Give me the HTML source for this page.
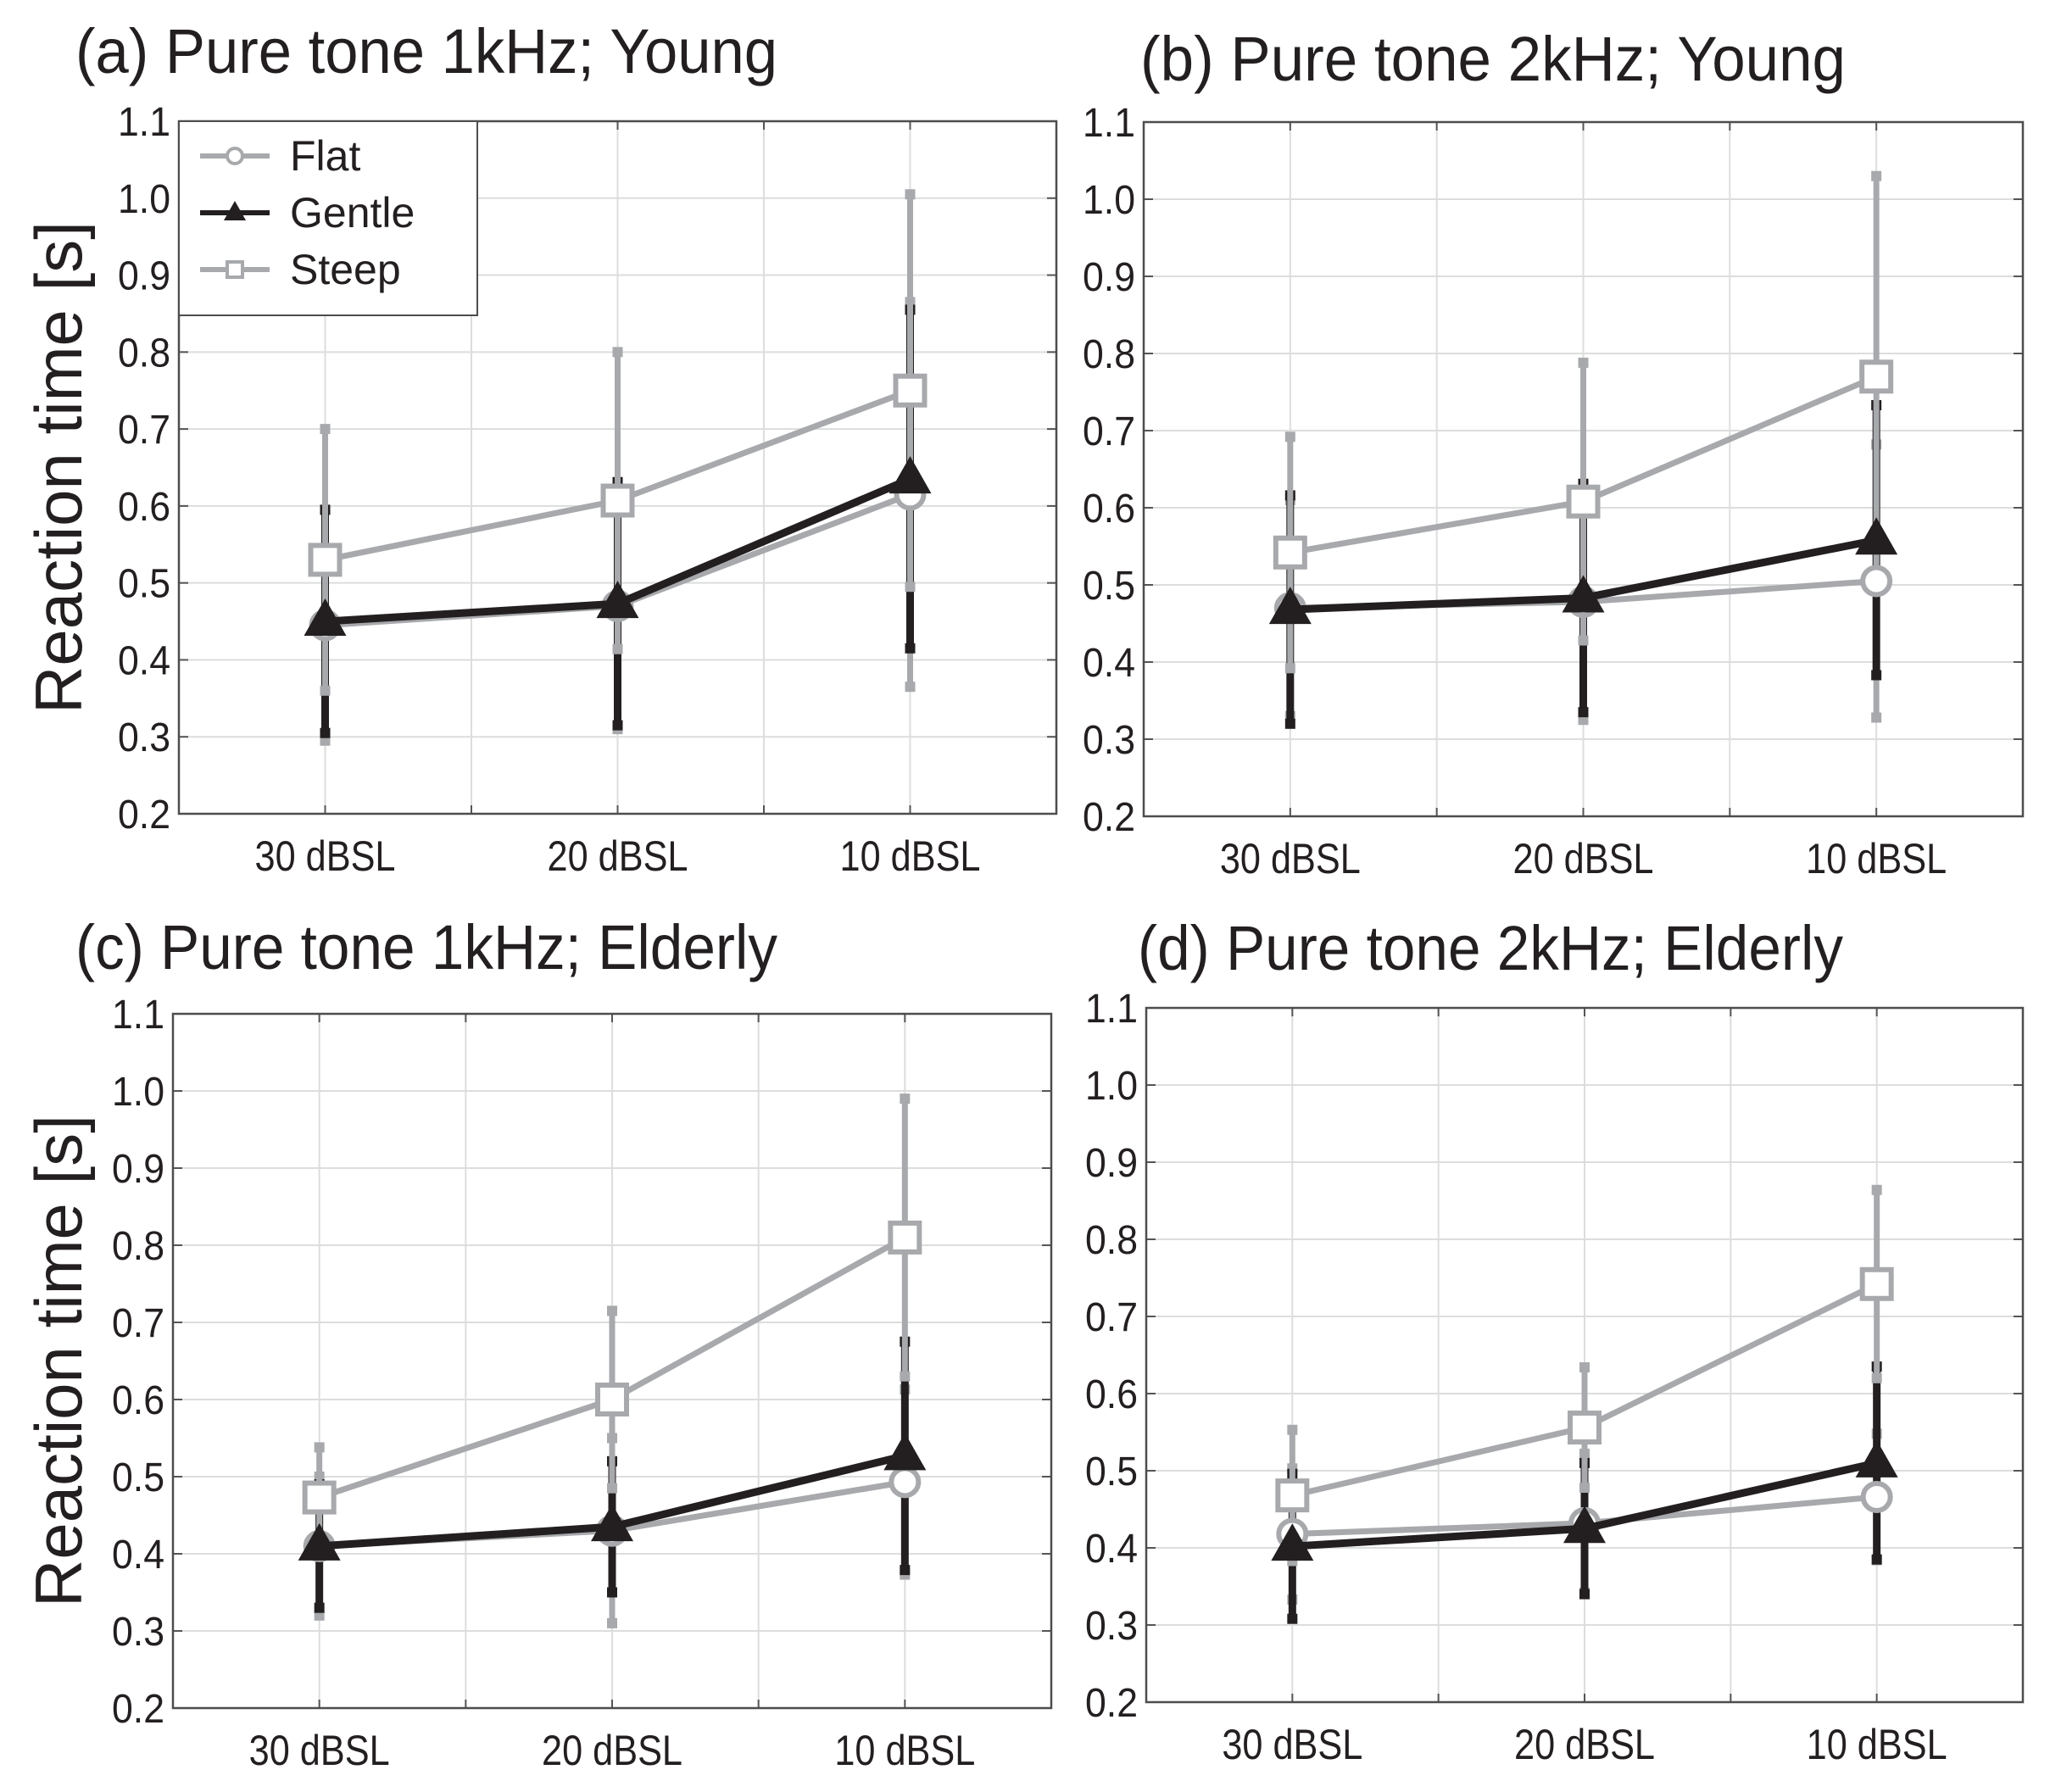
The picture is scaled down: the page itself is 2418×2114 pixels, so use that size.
<!DOCTYPE html>
<html><head><meta charset="utf-8">
<style>
html,body{margin:0;padding:0;background:#fff;}
svg{display:block;}
text{font-family:"Liberation Sans Narrow","Liberation Sans",sans-serif;fill:#231f20;}
</style></head>
<body>
<svg id="fig" width="2418" height="2114" viewBox="0 0 2418 2114" xmlns="http://www.w3.org/2000/svg"></svg>
<script>
const categories = ["30 dBSL","20 dBSL","10 dBSL"];
const yTicks = [0.2,0.3,0.4,0.5,0.6,0.7,0.8,0.9,1.0,1.1];
const yTickLabels = ["0.2","0.3","0.4","0.5","0.6","0.7","0.8","0.9","1.0","1.1"];
const panelTitles = ["(a) Pure tone 1kHz; Young","(b) Pure tone 2kHz; Young","(c) Pure tone 1kHz; Elderly","(d) Pure tone 2kHz; Elderly"];
// means
const flatA = [0.445,0.470,0.615], gentleA = [0.450,0.473,0.635], steepA = [0.530,0.607,0.750];
const flatB = [0.470,0.478,0.505], gentleB = [0.468,0.483,0.558], steepB = [0.542,0.608,0.770];
const flatC = [0.410,0.430,0.493], gentleC = [0.410,0.435,0.527], steepC = [0.473,0.600,0.810];
const flatD = [0.418,0.432,0.466], gentleD = [0.402,0.425,0.510], steepD = [0.468,0.556,0.742];
// standard deviations (error bars)
const flatErrA = [0.150,0.160,0.250], gentleErrA = [0.145,0.158,0.220], steepErrA = [0.170,0.193,0.255];
const flatErrB = [0.140,0.153,0.177], gentleErrB = [0.148,0.148,0.175], steepErrB = [0.150,0.180,0.260];
const flatErrC = [0.090,0.120,0.120], gentleErrC = [0.080,0.085,0.148], steepErrC = [0.065,0.115,0.180];
const flatErrD = [0.085,0.090,0.082], gentleErrD = [0.094,0.085,0.125], steepErrD = [0.085,0.078,0.122];

const NS="http://www.w3.org/2000/svg";
const svg=document.getElementById('fig');
const GRAY="#a7a9ac", BLACK="#231f20";
function mk(tag,attrs,parent){const e=document.createElementNS(NS,tag);for(const k in attrs)e.setAttribute(k,attrs[k]);(parent||svg).appendChild(e);return e;}

const panels=[
 {L:211,R:1246,T:143,B:960,tx:89,ty:86,ylab:true,legend:true,flat:flatA,gentle:gentleA,steep:steepA,fe:flatErrA,ge:gentleErrA,se:steepErrA},
 {L:1349,R:2386,T:144,B:963,tx:1345,ty:95,ylab:false,legend:false,flat:flatB,gentle:gentleB,steep:steepB,fe:flatErrB,ge:gentleErrB,se:steepErrB},
 {L:204,R:1240,T:1196,B:2015,tx:89,ty:1143,ylab:true,legend:false,flat:flatC,gentle:gentleC,steep:steepC,fe:flatErrC,ge:gentleErrC,se:steepErrC},
 {L:1352,R:2386,T:1189,B:2008,tx:1342,ty:1144,ylab:false,legend:false,flat:flatD,gentle:gentleD,steep:steepD,fe:flatErrD,ge:gentleErrD,se:steepErrD}
];
const names=["a","b","c","d"];

panels.forEach((p,pi)=>{
  const g=mk('g',{});
  
  
  const ys=v=>p.B-(v-0.2)/(0.9)*(p.B-p.T);
  const xs=i=>p.L+(i+0.5)/3*(p.R-p.L);
  const t=mk('text',{x:p.tx,y:p.ty,'font-size':74,textLength:(pi%2?832:828),lengthAdjust:'spacingAndGlyphs'},g);
  t.textContent=panelTitles[pi];
  
  
  for(let k=1;k<6;k++){const x=p.L+k/6*(p.R-p.L);
    const gl=mk('line',{x1:x,x2:x,y1:p.T,y2:p.B,stroke:'#dcdddd','stroke-width':2},g);
    
    
    mk('line',{x1:x,x2:x,y1:p.T,y2:p.T+10,stroke:'#555','stroke-width':2},g);
    mk('line',{x1:x,x2:x,y1:p.B,y2:p.B-10,stroke:'#555','stroke-width':2},g);
  }
  yTicks.forEach((v,i)=>{const y=ys(v);
    if(i>0&&i<yTicks.length-1){
      const gl=mk('line',{x1:p.L,x2:p.R,y1:y,y2:y,stroke:'#dcdddd','stroke-width':2},g);
      
      
      mk('line',{x1:p.L,x2:p.L+11,y1:y,y2:y,stroke:'#555','stroke-width':2},g);
      mk('line',{x1:p.R,x2:p.R-11,y1:y,y2:y,stroke:'#555','stroke-width':2},g);
    }
    const tl=mk('text',{x:p.L-10,y:y+17,'font-size':48,'text-anchor':'end',textLength:62,lengthAdjust:'spacingAndGlyphs'},g);
    tl.textContent=yTickLabels[i];
    
    
  });
  categories.forEach((c,i)=>{
    const tl=mk('text',{x:xs(i),y:p.B+67,'font-size':50,'text-anchor':'middle',textLength:166,lengthAdjust:'spacingAndGlyphs'},g);
    tl.textContent=c;
    
    
  });
  const box=mk('rect',{x:p.L,y:p.T,width:p.R-p.L,height:p.B-p.T,fill:'none',stroke:'#4d4d4f','stroke-width':2.5},g);
  
  
  if(p.ylab){
    const yl=mk('text',{x:0,y:0,'font-size':78,'text-anchor':'middle',transform:`translate(96,${(p.T+p.B)/2}) rotate(-90)`},g);
    yl.textContent="Reaction time [s]";
    
    
  }
  const flatS={name:'flat',vals:p.flat,err:p.fe,color:GRAY,marker:'circle'};
  const gentleS={name:'gentle',vals:p.gentle,err:p.ge,color:BLACK,marker:'triangle'};
  const steepS={name:'steep',vals:p.steep,err:p.se,color:GRAY,marker:'square'};
  [flatS,gentleS,steepS].forEach(s=>{
    s.vals.forEach((v,i)=>{
      const x=xs(i),lo=ys(v-s.err[i]),hi=ys(v+s.err[i]);
      const eb=mk('line',{x1:x,x2:x,y1:lo,y2:hi,stroke:s.color,'stroke-width':(s.name==='gentle'?9:7)},g);
      
      
      [lo,hi].forEach(yy=>mk('rect',{x:x-6,y:yy-6,width:12,height:12,fill:s.color},g));
    });
  });
  [flatS,gentleS,steepS].forEach(s=>{
    const pts=s.vals.map((v,i)=>xs(i)+','+ys(v)).join(' ');
    const pl=mk('polyline',{points:pts,fill:'none',stroke:s.color,'stroke-width':(s.name==='gentle'?9:7)},g);
    
    
    s.vals.forEach((v,i)=>{
      const x=xs(i),y=ys(v);let m;
      if(s.marker==='circle') m=mk('circle',{cx:x,cy:y,r:16,fill:'#fff',stroke:s.color,'stroke-width':6},g);
      else if(s.marker==='square') m=mk('rect',{x:x-17,y:y-17,width:34,height:34,fill:'#fff',stroke:s.color,'stroke-width':6},g);
      else m=mk('polygon',{points:`${x},${y-27} ${x-25},${y+17} ${x+25},${y+17}`,fill:BLACK},g);
      
      
    });
  });
  if(p.legend){
    const lg=mk('g',{},g);
    
    
    mk('rect',{x:p.L,y:p.T,width:352,height:229,fill:'#fff',stroke:'#4d4d4f','stroke-width':2},lg);
    const ents=[["Flat",GRAY,'circle',184],["Gentle",BLACK,'triangle',251],["Steep",GRAY,'square',318]];
    ents.forEach(e=>{
      const eg=mk('g',{},lg);
      
      
      mk('line',{x1:236,x2:318,y1:e[3],y2:e[3],stroke:e[1],'stroke-width':6},eg);
      const cx=277;
      if(e[2]==='circle') mk('circle',{cx:cx,cy:e[3],r:9,fill:'#fff',stroke:e[1],'stroke-width':4},eg);
      else if(e[2]==='square') mk('rect',{x:cx-9,y:e[3]-9,width:18,height:18,fill:'#fff',stroke:e[1],'stroke-width':4},eg);
      else mk('polygon',{points:`${cx},${e[3]-14} ${cx-13},${e[3]+9} ${cx+13},${e[3]+9}`,fill:BLACK},eg);
      const tx=mk('text',{x:342,y:e[3]+17,'font-size':50,style:'font-family:"Liberation Sans",sans-serif'},eg);
      tx.textContent=e[0];
    });
  }
});
</script>
</body></html>
